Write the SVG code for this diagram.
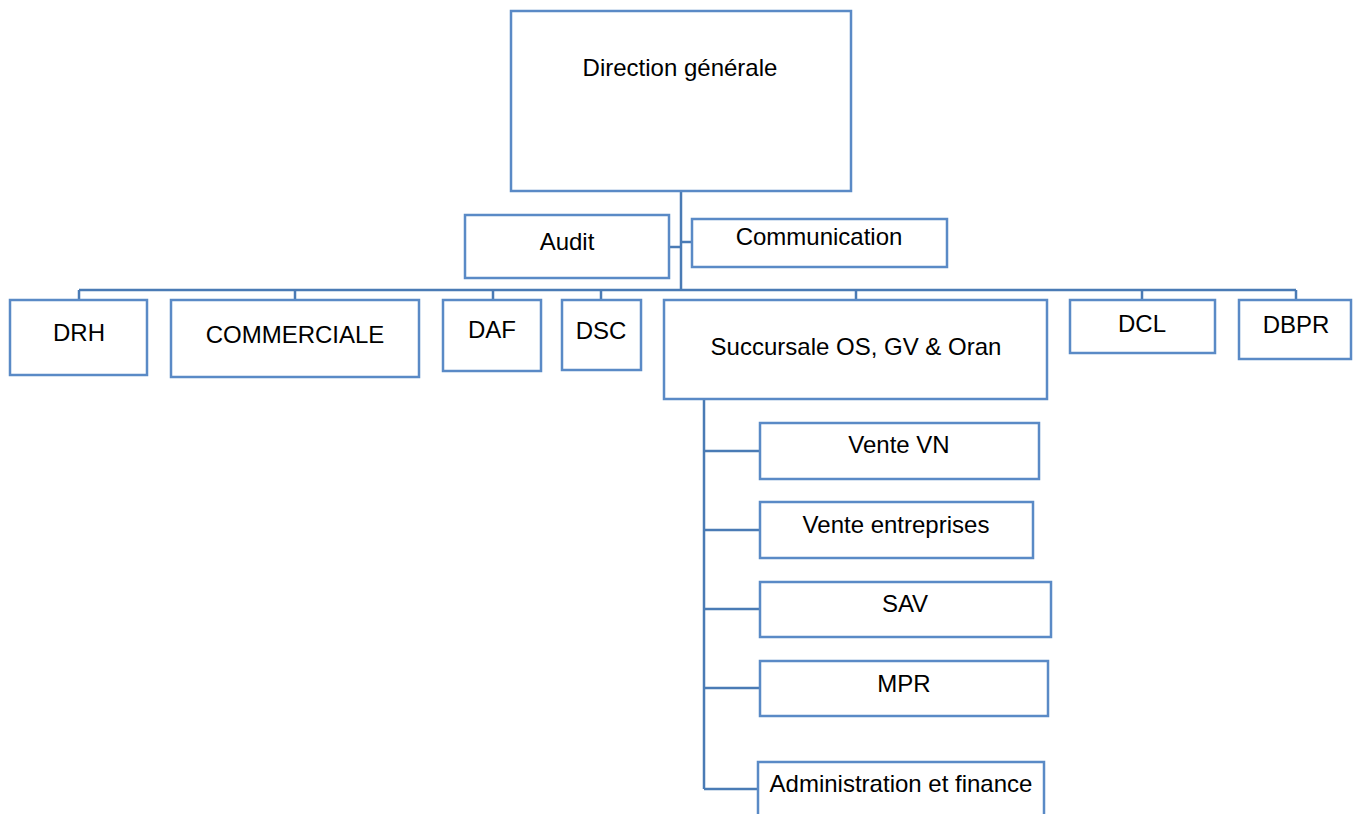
<svg xmlns="http://www.w3.org/2000/svg" width="1358" height="814" viewBox="0 0 1358 814">
  <style>
    .box { fill: #ffffff; stroke: #5a8ac6; stroke-width: 2.5; }
    .link { fill: none; stroke: #4a7bb5; stroke-width: 2.5; }
    .lbl { font-family: "Liberation Sans", Arial, sans-serif; font-size: 24px; fill: #000000; text-anchor: middle; }
  </style>
  <rect width="1358" height="814" fill="#ffffff"/>

  <!-- connectors -->
  <g id="connectors">
    <!-- trunk from Direction générale down to the main bus -->
    <path class="link" d="M681 191 V290"/>
    <path class="link" d="M669 247 H681"/>
    <path class="link" d="M681 242 H692"/>
    <!-- main bus and drops -->
    <path class="link" d="M79 290 H1296"/>
    <path class="link" d="M79 290 V300"/>
    <path class="link" d="M295 290 V300"/>
    <path class="link" d="M493 290 V300"/>
    <path class="link" d="M601 290 V300"/>
    <path class="link" d="M856 290 V300"/>
    <path class="link" d="M1142 290 V300"/>
    <path class="link" d="M1296 290 V300"/>
    <!-- branch under Succursale -->
    <path class="link" d="M704 399 V789"/>
    <path class="link" d="M704 451 H760"/>
    <path class="link" d="M704 530 H760"/>
    <path class="link" d="M704 609 H760"/>
    <path class="link" d="M704 688 H760"/>
    <path class="link" d="M704 789 H758"/>
  </g>

  <g id="direction-generale">
    <rect class="box" x="511" y="11" width="340" height="180"/>
    <text class="lbl" x="680" y="76">Direction générale</text>
  </g>
  <g id="audit">
    <rect class="box" x="465" y="215" width="204" height="63"/>
    <text class="lbl" x="567" y="250">Audit</text>
  </g>
  <g id="communication">
    <rect class="box" x="692" y="219" width="255" height="48"/>
    <text class="lbl" x="819" y="245">Communication</text>
  </g>

  <g id="drh">
    <rect class="box" x="10" y="300" width="137" height="75"/>
    <text class="lbl" x="79" y="341">DRH</text>
  </g>
  <g id="commerciale">
    <rect class="box" x="171" y="300" width="248" height="77"/>
    <text class="lbl" x="295" y="343">COMMERCIALE</text>
  </g>
  <g id="daf">
    <rect class="box" x="443" y="300" width="98" height="71"/>
    <text class="lbl" x="492" y="338">DAF</text>
  </g>
  <g id="dsc">
    <rect class="box" x="562" y="300" width="79" height="70"/>
    <text class="lbl" x="601" y="339">DSC</text>
  </g>
  <g id="succursale">
    <rect class="box" x="664" y="300" width="383" height="99"/>
    <text class="lbl" x="856" y="355">Succursale OS, GV &amp; Oran</text>
  </g>
  <g id="dcl">
    <rect class="box" x="1070" y="300" width="145" height="53"/>
    <text class="lbl" x="1142" y="332">DCL</text>
  </g>
  <g id="dbpr">
    <rect class="box" x="1239" y="300" width="112" height="59"/>
    <text class="lbl" x="1296" y="333">DBPR</text>
  </g>

  <g id="vente-vn">
    <rect class="box" x="760" y="423" width="279" height="56"/>
    <text class="lbl" x="899" y="453">Vente VN</text>
  </g>
  <g id="vente-entreprises">
    <rect class="box" x="760" y="502" width="273" height="56"/>
    <text class="lbl" x="896" y="533">Vente entreprises</text>
  </g>
  <g id="sav">
    <rect class="box" x="760" y="582" width="291" height="55"/>
    <text class="lbl" x="905" y="612">SAV</text>
  </g>
  <g id="mpr">
    <rect class="box" x="760" y="661" width="288" height="55"/>
    <text class="lbl" x="904" y="692">MPR</text>
  </g>
  <g id="administration-finance">
    <rect class="box" x="758" y="762" width="286" height="70"/>
    <text class="lbl" x="901" y="792">Administration et finance</text>
  </g>
</svg>
